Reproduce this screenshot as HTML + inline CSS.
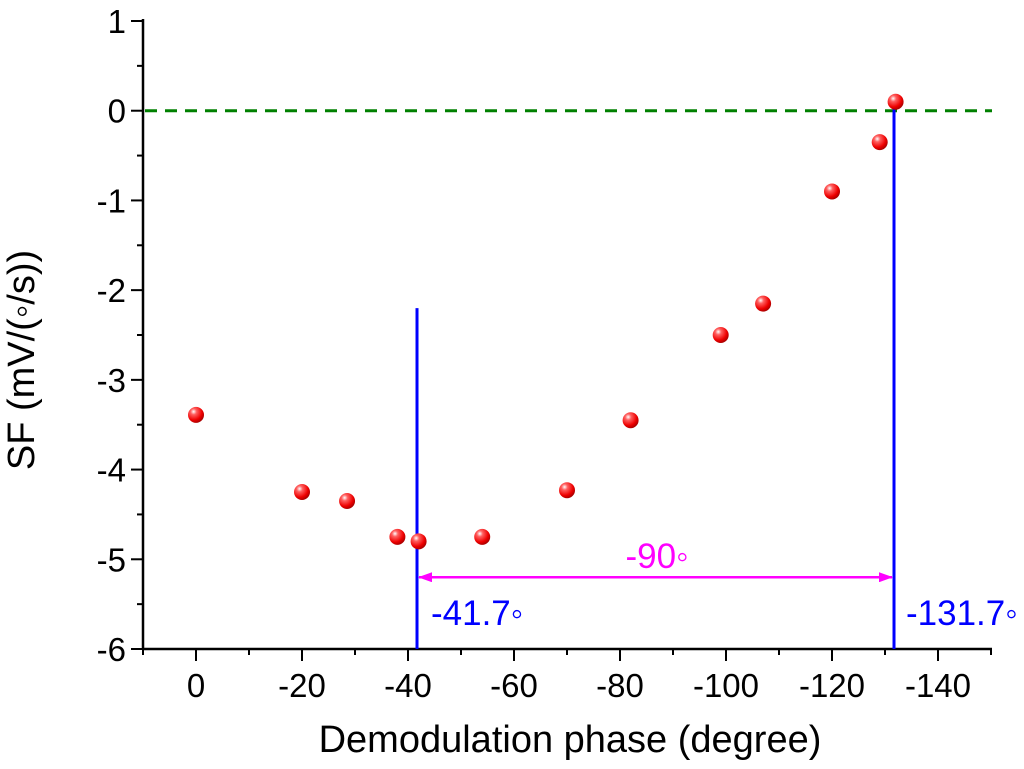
<!DOCTYPE html>
<html><head><meta charset="utf-8"><style>
html,body{margin:0;padding:0;background:#fff;}
svg{display:block;font-family:"Liberation Sans",Arial,sans-serif;}
</style></head><body>
<svg id="chart" width="1024" height="769" viewBox="0 0 1024 769">
<defs>
<radialGradient id="ball" cx="0.35" cy="0.3" r="0.75">
<stop offset="0" stop-color="#fff"/><stop offset="0.25" stop-color="#ff6060"/><stop offset="0.7" stop-color="#ee0000"/><stop offset="1" stop-color="#a00000"/>
</radialGradient>
<marker id="ah" markerWidth="14" markerHeight="10" refX="13" refY="5" orient="auto-start-reverse" markerUnits="userSpaceOnUse">
<path d="M0,0 L14,5 L0,10 Z" fill="#ff00ff"/></marker>
</defs>
<g id="g"></g>
</svg>
<script>
const xs=[0,-20,-28.5,-38,-42,-54,-70,-82,-99,-107,-120,-129,-132];
const ys=[-3.39,-4.25,-4.35,-4.75,-4.8,-4.75,-4.23,-3.45,-2.5,-2.15,-0.9,-0.35,0.1];
const xTicks=[0,-20,-40,-60,-80,-100,-120,-140];
const yTicks=[1,0,-1,-2,-3,-4,-5,-6];
const L=143,R=992,T=21,B=649;
const X=v=>196+(0-v)*(938-196)/140;
const Y=v=>T+(1-v)*(B-T)/7;
const g=document.getElementById('g');
const NS='http://www.w3.org/2000/svg';
function el(t,a,txt){const e=document.createElementNS(NS,t);for(const k in a)e.setAttribute(k,a[k]);if(txt!==undefined)e.textContent=txt;g.appendChild(e);return e;}
let e;
e=el('line',{x1:L,y1:T-2,x2:L,y2:B,stroke:'#000','stroke-width':2.5});


e=el('line',{x1:L-1,y1:B,x2:R,y2:B,stroke:'#000','stroke-width':2.5});


for(let v=10;v>=-150;v-=10){const major=v%20===0;el('line',{x1:X(v),y1:B,x2:X(v),y2:B+(major?12:6),stroke:'#000','stroke-width':2});}
xTicks.forEach(v=>{e=el('text',{x:X(v),y:B+48,'text-anchor':'middle','font-size':33},String(v));

});
for(let v=1;v>=-6;v-=0.5){const major=Number.isInteger(v);el('line',{x1:L,y1:Y(v),x2:L-(major?12:6),y2:Y(v),stroke:'#000','stroke-width':2});}
yTicks.forEach(v=>{e=el('text',{x:L-17,y:Y(v)+12,'text-anchor':'end','font-size':33},String(v));

});
e=el('text',{x:570,y:752,'text-anchor':'middle','font-size':38},'Demodulation phase (degree)');


e=el('text',{x:0,y:0,'text-anchor':'middle','font-size':38,transform:'translate(34,360) rotate(-90)'},'SF (mV/(\u25E6/s))');


e=el('line',{x1:L+2,y1:Y(0),x2:R,y2:Y(0),stroke:'#008000','stroke-width':3,'stroke-dasharray':'12,8'});


e=el('line',{x1:X(-41.7),y1:Y(-2.2),x2:X(-41.7),y2:B,stroke:'#0000ff','stroke-width':3});


e=el('line',{x1:X(-131.7),y1:Y(0.1),x2:X(-131.7),y2:B,stroke:'#0000ff','stroke-width':3});


e=el('line',{x1:X(-41.7)+2,y1:Y(-5.2),x2:X(-131.7)-2,y2:Y(-5.2),stroke:'#ff00ff','stroke-width':2.5,'marker-start':'url(#ah)','marker-end':'url(#ah)'});


e=el('text',{x:657,y:568,'text-anchor':'middle','font-size':35,fill:'#ff00ff'},'-90\u25E6');


e=el('text',{x:431,y:625,'font-size':35,fill:'#0000ff'},'-41.7\u25E6');


e=el('text',{x:906,y:625,'font-size':35,fill:'#0000ff'},'-131.7\u25E6');


xs.forEach((x,i)=>{e=el('circle',{cx:X(x),cy:Y(ys[i]),r:8,fill:'url(#ball)'});

});
</script>
</body></html>
